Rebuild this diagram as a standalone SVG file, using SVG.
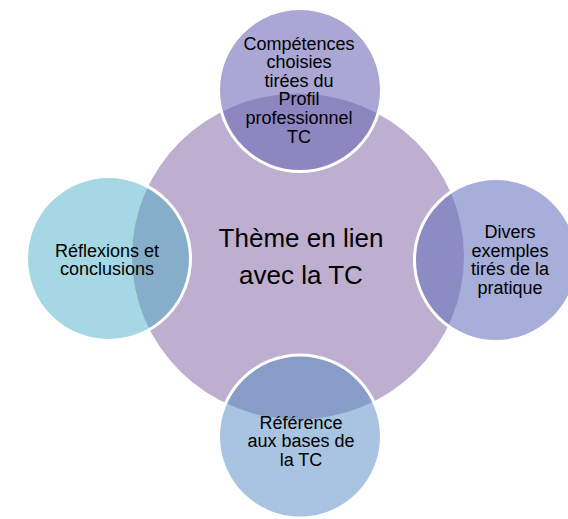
<svg xmlns="http://www.w3.org/2000/svg" width="568" height="519" viewBox="0 0 568 519">
<style>
text{font-family:"Liberation Sans",Arial,sans-serif;fill:#000;text-anchor:middle}
.sat{font-size:18px}
.main{font-size:26px}
.ring{fill:none;stroke:#fff;stroke-width:3}
</style>
<defs>
<clipPath id="cc"><ellipse cx="298" cy="256.5" rx="166" ry="163"/></clipPath>
</defs>
<rect width="568" height="519" fill="#fff"/>
<g id="center">
<ellipse cx="298" cy="256.5" rx="166" ry="163" fill="#BEAED0"/>
<text class="main" x="301" y="247">Thème en lien</text>
<text class="main" x="301" y="284">avec la TC</text>
</g>
<g id="connectors"></g>
<g id="top">
<circle cx="300" cy="90" r="81.5" fill="#AAA7D4"/>
<circle cx="300" cy="90" r="81.5" fill="#8E86BE" clip-path="url(#cc)"/>
<circle class="ring" cx="300" cy="90" r="81.5"/>
<text class="sat" x="299" y="49.5">Compétences</text>
<text class="sat" x="299" y="68.1">choisies</text>
<text class="sat" x="299" y="86.7">tirées du</text>
<text class="sat" x="299" y="105.3">Profil</text>
<text class="sat" x="299" y="123.9">professionnel</text>
<text class="sat" x="299" y="142.5">TC</text>
</g>
<g id="right">
<circle cx="496" cy="260" r="81.5" fill="#A7AEDA"/>
<circle cx="496" cy="260" r="81.5" fill="#8A8CC3" clip-path="url(#cc)"/>
<circle class="ring" cx="496" cy="260" r="81.5"/>
<text class="sat" x="510" y="238">Divers</text>
<text class="sat" x="510" y="256.5">exemples</text>
<text class="sat" x="510" y="275">tirés de la</text>
<text class="sat" x="510" y="293.5">pratique</text>
</g>
<g id="bottom">
<circle cx="300" cy="436.5" r="81.5" fill="#A8C4E1"/>
<circle cx="300" cy="436.5" r="81.5" fill="#879DC7" clip-path="url(#cc)"/>
<circle class="ring" cx="300" cy="436.5" r="81.5"/>
<text class="sat" x="301" y="428.5">Référence</text>
<text class="sat" x="301" y="447">aux bases de</text>
<text class="sat" x="301" y="465.5">la TC</text>
</g>
<g id="left">
<circle cx="108.5" cy="258.5" r="82" fill="#A6D7E4"/>
<circle cx="108.5" cy="258.5" r="82" fill="#86AECA" clip-path="url(#cc)"/>
<circle class="ring" cx="108.5" cy="258.5" r="82"/>
<text class="sat" x="107" y="256.5">Réflexions et</text>
<text class="sat" x="107" y="275">conclusions</text>
</g>
</svg>
